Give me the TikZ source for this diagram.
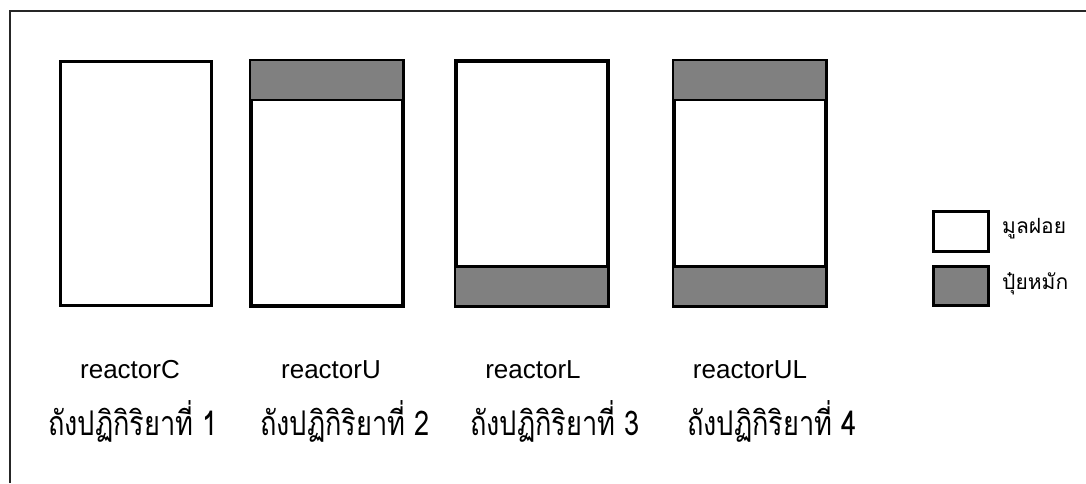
\documentclass[tikz,border=0pt]{standalone}
\usepackage{fontspec}
\setmainfont{Liberation Sans}
\newfontfamily\thaifont[Script=Thai]{Loma}
\newfontfamily\thainarrow[Script=Thai,FakeStretch=0.8]{Loma}
\definecolor{bandgray}{HTML}{808080}
\begin{document}
\begin{tikzpicture}[x=1pt,y=-1pt,
  frameline/.style={line width=1.5pt,black!85},
  reactorbox/.style={draw,line width=2.5pt,fill=white,rectangle,minimum width=151pt,minimum height=244pt,inner sep=0pt,anchor=north west},
  band/.style={fill=bandgray},
  divider/.style={line width=2.5pt},
  legendbox/.style={draw,line width=2.5pt,rectangle,minimum width=55pt,minimum height=40pt,inner sep=0pt,anchor=north west},
  enlabel/.style={anchor=base,font=\fontsize{26}{30}\selectfont,inner sep=0pt},
  thlabel/.style={anchor=base west,font=\thainarrow\fontsize{34}{40}\selectfont,inner sep=0pt},
  leglabel/.style={anchor=west,font=\thaifont\fontsize{21}{25}\selectfont,inner sep=0pt}]
\useasboundingbox (0,0) rectangle (1086,483);
\draw[frameline] (10,483) -- (10,11) -- (1086,11);
% reactor 1
\node[reactorbox] (r1) at (59,60) {};
% reactor 2
\node[reactorbox] (r2) at (250,60) {};
\fill[band] (r2.north west) rectangle ([yshift=-40pt]r2.north east);
\draw[divider] ([yshift=-40pt]r2.north west) -- ([yshift=-40pt]r2.north east);
\draw[line width=2.5pt] (r2.north west) rectangle (r2.south east);
% reactor 3
\node[reactorbox] (r3) at (455,60) {};
\fill[band] (r3.south west) rectangle ([yshift=40pt]r3.south east);
\draw[divider] ([yshift=40pt]r3.south west) -- ([yshift=40pt]r3.south east);
\draw[line width=2.5pt] (r3.north west) rectangle (r3.south east);
% reactor 4
\node[reactorbox] (r4) at (673,60) {};
\fill[band] (r4.north west) rectangle ([yshift=-40pt]r4.north east);
\fill[band] (r4.south west) rectangle ([yshift=40pt]r4.south east);
\draw[divider] ([yshift=-40pt]r4.north west) -- ([yshift=-40pt]r4.north east);
\draw[divider] ([yshift=40pt]r4.south west) -- ([yshift=40pt]r4.south east);
\draw[line width=2.5pt] (r4.north west) rectangle (r4.south east);
% legend
\node[legendbox,fill=white] (lw) at (932,210) {};
\node[legendbox,fill=bandgray,minimum height=39pt] (lg) at (932,265) {};
\node[leglabel] (lwt) at (1002,229) {มูลฝอย};
\node[leglabel] (lgt) at (1002,284) {ปุ๋ยหมัก};
% english labels
\node[enlabel] (e1) at (130,378) {reactorC};
\node[enlabel] (e2) at (331,378) {reactorU};
\node[enlabel] (e3) at (533,378) {reactorL};
\node[enlabel] (e4) at (750,378) {reactorUL};
% thai labels
\node[thlabel] (t1) at (48,435) {ถังปฏิกิริยาที่ 1};
\node[thlabel] (t2) at (260,435) {ถังปฏิกิริยาที่ 2};
\node[thlabel] (t3) at (470,435) {ถังปฏิกิริยาที่ 3};
\node[thlabel] (t4) at (687,435) {ถังปฏิกิริยาที่ 4};
\end{tikzpicture}
\end{document}
